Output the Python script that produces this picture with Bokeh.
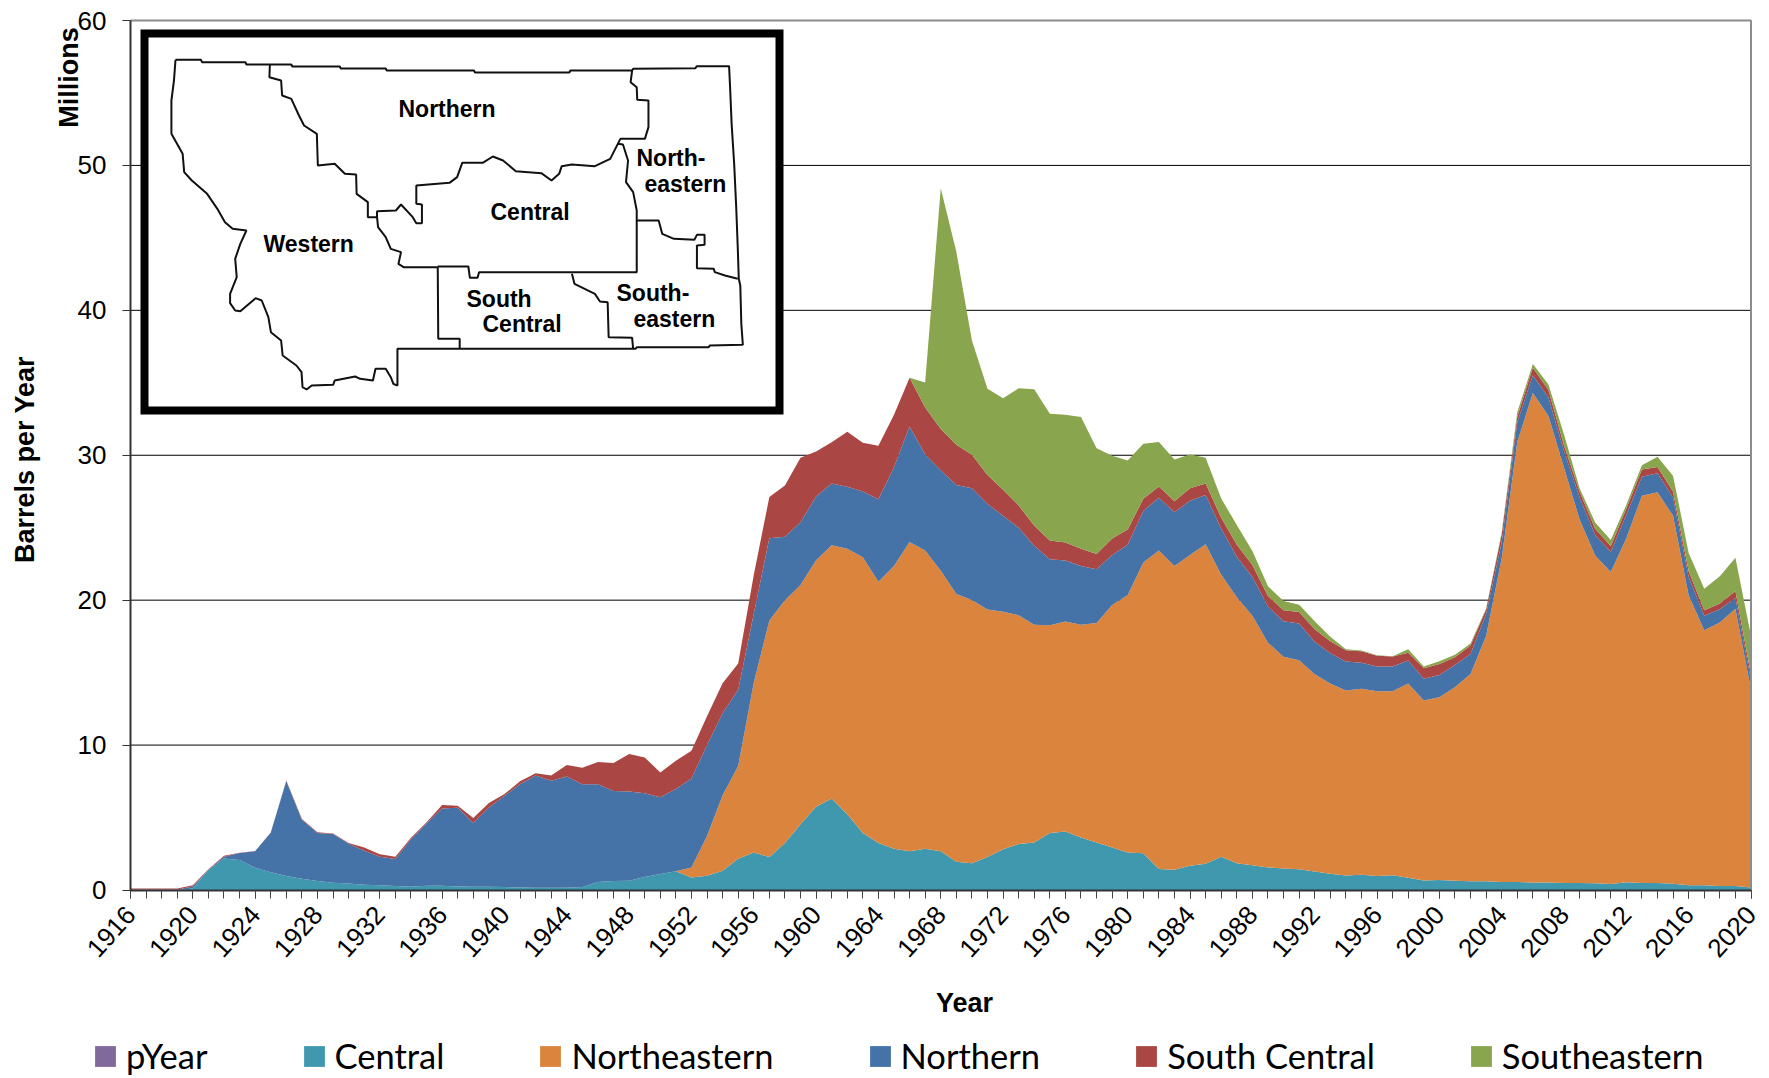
import math
from bokeh.plotting import figure
from bokeh.models import Label, Legend, LegendItem, FixedTicker, Range1d
from bokeh.embed import file_html
from bokeh.resources import INLINE

years = list(range(1916, 2021))
tick_years = list(range(1916, 2021, 4))
y_ticks = [0, 10, 20, 30, 40, 50, 60]
grid_ticks = [10, 20, 30, 40, 50]

# Values below are cumulative stack tops in millions of barrels.
p_year = [0.0] * 105

central = [0, 0, 0, 0, .1, 1.38, 2.18, 2.07, 1.54, 1.22, .97, .78, .62, .5, .44,
           .37, .32, .28, .23, .3, .3, .25, .23, .23, .2, .18, .16, .16, .16, .2,
           .55, .62, .64, .9, 1.1, 1.29,
           .86, .99, 1.32, 2.15, 2.58, 2.28, 3.24, 4.53, 5.75, 6.31, 5.22, 3.93, 3.24, 2.84,
           2.68, 2.84, 2.68, 1.95, 1.85, 2.28, 2.81, 3.17, 3.27, 3.93, 4.03, 3.63, 3.27, 2.94,
           2.58, 2.54, 1.45, 1.39, 1.68, 1.82,
           2.3, 1.84, 1.71, 1.56, 1.48, 1.43, 1.28, 1.12, 1.0, 1.05, .97, 1.02, .84, .66, .69,
           .64, .61, .61, .56, .56, .51, .51, .49, .49, .46, .41, .54, .49, .49, .43, .33, .33,
           .28, .28, .18]

northeastern_top = central[:36] + [
    1.55, 3.73, 6.54, 8.56, 14.3, 18.6, 20.0, 21.04, 22.76, 23.79, 23.55, 22.96, 21.27, 22.36,
    24.02, 23.42, 22.03, 20.42, 20.02, 19.36, 19.2, 18.96, 18.3, 18.27, 18.53, 18.3, 18.43, 19.66,
    20.35, 22.6, 23.42, 22.36, 23.12, 23.85,
    21.76, 20.2, 18.92, 17.06, 16.09, 15.86, 14.89, 14.25, 13.76, 13.89, 13.71, 13.71, 14.25, 13.07,
    13.3, 13.99, 14.91, 17.52, 22.88, 30.92, 34.3, 32.71, 29.14, 25.56, 23.08, 21.94, 24.28, 27.2,
    27.45, 25.82, 20.33, 17.93, 18.46, 19.41, 13.82]

northern_top = [.04, .04, .04, .04, .25, 1.4, 2.3, 2.55, 2.67, 3.95, 7.5, 4.85, 3.93, 3.86, 3.2,
                2.7, 2.3, 2.14, 3.5, 4.6, 5.63, 5.68, 4.62, 5.7, 6.5, 7.3, 7.9, 7.54, 7.84, 7.29,
                7.3, 6.83, 6.8, 6.67, 6.4, 6.97,
                7.7, 10.0, 12.19, 13.81, 19.06, 24.28, 24.38, 25.37, 27.16, 28.05, 27.82, 27.49, 26.96, 29.17,
                31.98, 30.06, 28.97, 27.95, 27.72, 26.63, 25.83, 25.0, 23.75, 22.83, 22.73, 22.36, 22.13, 23.12,
                23.82, 26.16, 27.06, 26.06, 26.86, 27.25,
                24.92, 23.0, 21.6, 19.56, 18.54, 18.39, 17.13, 16.34, 15.76, 15.68, 15.42, 15.42, 15.83, 14.58,
                14.84, 15.53, 16.29, 19.05, 24.0, 32.28, 35.52, 33.99, 30.29, 27.09, 24.49, 23.32, 25.9, 28.52,
                28.75, 27.09, 21.6, 18.92, 19.38, 20.15, 14.45]

south_central_top = [.1, .1, .1, .1, .32, 1.44, 2.36, 2.57, 2.69, 3.97, 7.55, 4.9, 3.98, 3.9, 3.24,
                     2.94, 2.46, 2.3, 3.6, 4.67, 5.86, 5.82, 4.97, 6.0, 6.62, 7.5, 8.05, 7.9, 8.62, 8.44,
                     8.83, 8.76, 9.38, 9.15, 8.11, 8.92,
                     9.61, 11.99, 14.27, 15.63, 21.74, 27.12, 27.92, 29.83, 30.26, 30.89, 31.62, 30.86, 30.66, 32.8,
                     35.35, 33.3, 31.81, 30.72, 30.03, 28.64, 27.62, 26.53, 25.14, 24.12, 23.98, 23.55, 23.19, 24.25,
                     24.88, 26.99, 27.85, 26.83, 27.72, 28.05,
                     25.69, 23.83, 22.42, 20.28, 19.31, 19.18, 18.0, 17.16, 16.55, 16.47, 16.16, 16.11, 16.37, 15.3,
                     15.6, 16.06, 16.88, 19.36, 24.54, 32.66, 36.03, 34.5, 30.67, 27.48, 24.92, 23.72, 26.33, 29.01,
                     29.19, 27.48, 21.99, 19.31, 19.77, 20.63, 14.84]

southeastern_top = south_central_top[:51] + [
    35.02, 48.43, 44.04, 37.92, 34.59, 33.93, 34.62, 34.56, 32.87, 32.8, 32.64, 30.49, 29.96,
    29.63, 30.79, 30.92, 29.7, 30.06, 29.83,
    27.02, 25.18, 23.39, 20.96, 19.94, 19.69, 18.54, 17.47, 16.62, 16.52, 16.2, 16.13, 16.62, 15.42,
    15.78, 16.24, 17.01, 19.43, 24.67, 32.97, 36.29, 34.88, 31.43, 27.73, 25.36, 24.16, 26.58, 29.31,
    29.9, 28.57, 23.26, 20.79, 21.65, 22.93, 17.52]

series_names = ["pYear", "Central", "Northeastern", "Northern", "South Central", "Southeastern"]
series_colors = ["#80699B", "#4098AF", "#DB843D", "#4572A7", "#AA4643", "#89A54E"]

# Inset map of Montana's oil regions, traced in its own sketch units.
map_lines = [
    [(343,178),(393,178),(395,185),(480,185),(482,192),(570,192),(572,198),(665,198),(667,204),(755,204),
     (757,210),(928,210),(930,216),(1115,216),(1117,210),(1238,210),(1240,205),(1362,203),(1365,197),(1428,197),
     (1430,260),(1433,370),(1438,490),(1442,620),(1445,740),(1447,835),(1450,855),(1452,970),(1455,1033),
     (1390,1035),(1388,1040),(1247,1040),(1245,1045),(778,1045),(778,1155),(770,1150),(765,1130),(755,1105),
     (735,1105),(730,1140),(705,1135),(695,1128),(655,1140),(652,1153),(610,1155),(600,1167),(592,1160),
     (590,1115),(580,1095),(553,1065),(550,1020),(530,995),(525,950),(512,900),(500,893),(470,932),(460,930),
     (450,908),(450,880),(463,830),(460,775),(470,730),(482,690),(455,685),(440,665),(425,625),(405,580),
     (375,540),(360,515),(357,460),(335,400),(335,300),(340,240),(343,178)],
    [(528,192),(527,230),(550,240),(552,285),(570,295),(585,345),(595,375),(620,400),(622,495),(655,490),
     (675,520),(697,522),(698,580),(720,605),(720,650),(738,650),(740,680),(755,710),(765,745),(785,755),
     (780,790),(790,800),(857,800),(858,1015),(900,1015),(900,1045)],
    [(738,650),(738,632),(775,630),(785,612),(808,650),(815,668),(826,668),(826,612),(815,610),(815,555),
     (880,547),(895,530),(905,487),(945,487),(965,468),(985,480),(1010,512),(1060,518),(1080,540),(1095,520),
     (1100,497),(1120,492),(1165,497),(1195,475),(1210,430),(1220,432),(1230,480),(1226,545),(1240,575),
     (1247,630),(1247,815),(938,815),(935,832),(920,832),(917,798),(857,798)],
    [(1238,210),(1235,245),(1247,260),(1248,298),(1270,300),(1270,380),(1263,415),(1215,415),(1210,430)],
    [(1247,660),(1290,660),(1297,700),(1320,715),(1360,718),(1365,703),(1380,703),(1380,733),(1365,735),
     (1365,803),(1398,805),(1400,815),(1420,825),(1445,835)],
    [(1120,820),(1125,850),(1165,880),(1175,903),(1190,905),(1192,1010),(1238,1012),(1240,1045)],
]
map_labels = [("Northern", 398, 108), ("North-", 636, 157), ("eastern", 644, 183), ("Central", 490, 211),
              ("Western", 263, 243), ("South", 466, 298), ("Central", 482, 323), ("South-", 616, 292),
              ("eastern", 633, 318)]

FONT = "Liberation Sans"
W, H = 1769, 1078
L, R, T, B = 130.0, 1750.5, 20.0, 889.5   # plot-area edges in window pixels


def wx(px):
    return years[0] + (px - L) * (years[-1] - years[0]) / (R - L)


def wy(py):
    return (B - py) * 60.0 / (B - T)


# The frame fills the whole canvas, so that every title and the legend can be placed freely;
# the axes stand at fixed places within it, on the chart's own scales.
p = figure(width=W, height=H, output_backend="svg", toolbar_location=None,
           x_range=Range1d(wx(0), wx(W)), y_range=Range1d(wy(H), wy(0)),
           min_border=0, background_fill_color="white", border_fill_color="white")

p.outline_line_color = None
p.xgrid.visible = False
p.ygrid.visible = False
p.segment(x0=[years[0]] * len(grid_ticks), x1=[years[-1]] * len(grid_ticks),
          y0=grid_ticks, y1=grid_ticks, line_color="#000000", line_width=1, level="underlay")

for ax in (p.xaxis[0], p.yaxis[0]):
    ax.axis_line_color = "#333333"
    ax.axis_line_width = 2
    ax.major_tick_line_color = "#333333"
    ax.major_tick_in = 0
    ax.major_tick_out = 8
    ax.major_label_text_font = FONT
    ax.major_label_text_font_size = "26px"
    ax.major_label_text_color = "#000000"

xa = p.xaxis[0]
xa.fixed_location = 0
xa.bounds = (years[0], years[-1])
xa.ticker = FixedTicker(ticks=tick_years, minor_ticks=years)
xa.minor_tick_line_color = "#444444"
xa.minor_tick_in = 0
xa.minor_tick_out = 8
xa.major_label_orientation = math.radians(48)
xa.major_label_standoff = 12
xa.major_label_overrides = {y: str(y) for y in tick_years}

ya = p.yaxis[0]
ya.fixed_location = years[0]
ya.bounds = (0, 60)
ya.ticker = FixedTicker(ticks=y_ticks)
ya.minor_tick_line_color = None
ya.major_label_standoff = 16

bases = [p_year, p_year, central, northeastern_top, northern_top, south_central_top]
tops = [p_year, central, northeastern_top, northern_top, south_central_top, southeastern_top]
items = []
for name, color, lo, hi in zip(series_names, series_colors, bases, tops):
    r = p.varea(x=years, y1=lo, y2=hi, fill_color=color, fill_alpha=1.0)
    items.append(LegendItem(label=name, renderers=[r]))

# Top and right edge of the plot area
p.line(x=[years[0], years[-1], years[-1]], y=[60, 60, 0], line_color="#8c8c8c", line_width=2)

legend = Legend(items=items, orientation="horizontal", location=(92, 2),
                glyph_width=26, glyph_height=26, label_standoff=8, spacing=93,
                padding=0, margin=0, border_line_color=None, background_fill_alpha=0,
                label_text_font="Lato", label_text_font_size="34.5px", label_text_color="#000000",
                label_height=26)
p.add_layout(legend, "center")

# Inset map
p.quad(left=[wx(144)], right=[wx(779)], top=[wy(33)], bottom=[wy(410)],
       fill_color="white", line_color="black", line_width=8, line_join="miter")
p.multi_line(xs=[[wx(a / 1.96) for a, _ in ln] for ln in map_lines],
             ys=[[wy(b / 3.0) for _, b in ln] for ln in map_lines],
             line_color="#111111", line_width=2)
for txt, px, py in map_labels:
    p.add_layout(Label(x=wx(px), y=wy(py), text=txt, text_font=FONT, text_font_style="bold",
                       text_font_size="23px", text_color="#000000", text_align="left",
                       text_baseline="middle"))

# Axis titles
p.add_layout(Label(x=wx(68), y=wy(77), text="Millions", angle=90, angle_units="deg", text_font=FONT,
                   text_font_style="bold", text_font_size="27px", text_align="center",
                   text_baseline="middle", text_color="#000000"))
p.add_layout(Label(x=wx(24), y=wy(459), text="Barrels per Year", angle=90, angle_units="deg", text_font=FONT,
                   text_font_style="bold", text_font_size="27px", text_align="center",
                   text_baseline="middle", text_color="#000000"))
p.add_layout(Label(x=wx(964), y=wy(1002), text="Year", text_font=FONT,
                   text_font_style="bold", text_font_size="27px", text_align="center",
                   text_baseline="middle", text_color="#000000"))

open("out.html", "w").write(file_html(p, INLINE))
